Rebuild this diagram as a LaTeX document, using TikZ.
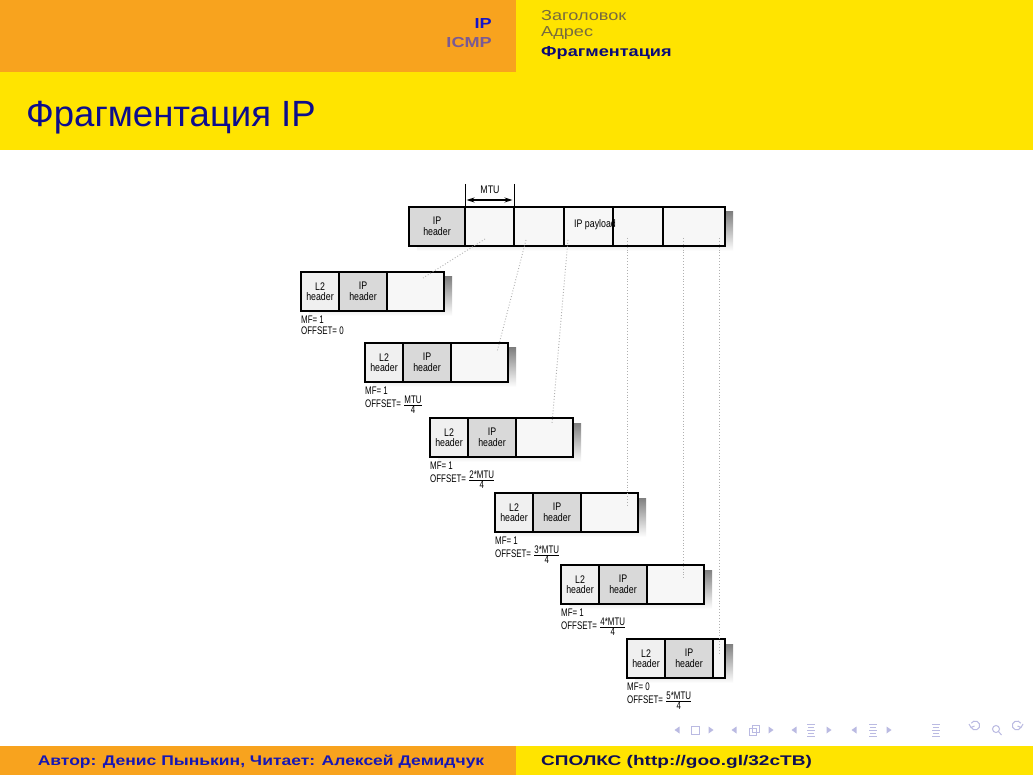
\documentclass[tikz,border=0pt]{standalone}
\usepackage{fontspec}
\setmainfont{Liberation Sans}
\newfontfamily\figfont[FakeStretch=0.8]{Liberation Sans}
\newfontfamily\flagfont[FakeStretch=0.72]{Liberation Sans}
\newfontfamily\slidefont[FakeStretch=1.25]{Liberation Sans}
\newfontfamily\slidewide[FakeStretch=1.36]{Liberation Sans}
\usetikzlibrary{arrows.meta,calc,backgrounds}

\definecolor{barorange}{HTML}{F8A31E}
\definecolor{baryellow}{HTML}{FFE400}
\definecolor{titleblue}{HTML}{0D0D8C}
\definecolor{navactive}{HTML}{1414C8}
\definecolor{navfaded}{HTML}{7A5A94}
\definecolor{secfaded}{HTML}{776B3E}
\definecolor{secactive}{HTML}{0A0A78}
\definecolor{footblue}{HTML}{1717B4}
\definecolor{footnavy}{HTML}{0E0E55}
\definecolor{navsym}{HTML}{BABAE2}
\definecolor{shade}{HTML}{9C9C9C}
\definecolor{cellL}{HTML}{F0F0F0}
\definecolor{cellIP}{HTML}{D9D9D9}
\definecolor{cellP}{HTML}{F7F7F7}
\definecolor{guide}{HTML}{B0B0B0}

\tikzset{
  cell/.style={draw=black, line width=1.1pt, minimum height=39pt, inner sep=0pt,
    outer sep=0pt, anchor=north west, align=center,
    font=\figfont\fontsize{11}{10.5}\selectfont},
  l2cell/.style={cell, fill=cellL, minimum width=38pt},
  ipcell/.style={cell, fill=cellIP, minimum width=48pt},
  paycell/.style={cell, fill=cellP, minimum width=57pt},
  flags/.style={anchor=north west, inner sep=0pt, align=left,
    font=\flagfont\fontsize{11}{11}\selectfont},
  guideline/.style={guide, line width=0.9pt, dotted},
  headtext/.style={inner sep=0pt, font=\slidefont\fontsize{14.5}{14.5}\selectfont},
  headbold/.style={inner sep=0pt, font=\slidefont\bfseries\fontsize{14.5}{14.5}\selectfont},
  navline/.style={navsym, line width=1pt},
}

\begin{document}
\begin{tikzpicture}[x=1pt, y=-1pt]
\useasboundingbox (0,0) rectangle (1033,775);

% slide background, head and foot bars
\begin{scope}[on background layer]
  \fill[white] (0,0) rectangle (1033,775);
  \fill[barorange] (0,0) rectangle (516,72);
  \fill[baryellow] (516,0) rectangle (1033,72);
  \fill[baryellow] (0,72) rectangle (1033,150);
  \fill[barorange] (0,746) rectangle (516,775);
  \fill[baryellow] (516,746) rectangle (1033,775);
\end{scope}

% head line: sections and subsections
\node[headbold, anchor=base east, text=navactive] (secip) at (492,29) {IP};
\node[headbold, anchor=base east, text=navfaded] (secicmp) at (492,48) {ICMP};
\node[headtext, anchor=base west, text=secfaded] (sub1) at (541,20.5) {Заголовок};
\node[headtext, anchor=base west, text=secfaded] (sub2) at (541,37) {Адрес};
\node[headbold, anchor=base west, text=secactive] (sub3) at (541,56.5) {Фрагментация};

% frame title
\node[anchor=base west, inner sep=0pt, text=titleblue, font=\fontsize{36.5}{37}\selectfont] (title) at (26,127) {Фрагментация IP};

% original datagram
\node[ipcell, minimum width=56pt] (tip) at (409,207) {IP\\header};
\node[cell, fill=cellP, minimum width=49pt] (t1) at (tip.north east) {};
\node[cell, fill=cellP, minimum width=50pt] (t2) at (t1.north east) {};
\node[cell, fill=cellP, minimum width=49pt] (t3) at (t2.north east) {};
\node[cell, fill=cellP, minimum width=50pt] (t4) at (t3.north east) {};
\node[cell, fill=cellP, minimum width=62pt] (t5) at (t4.north east) {};
\node[inner sep=0pt, font=\figfont\fontsize{11}{11}\selectfont] (tpay) at (595,225) {IP payload};

% MTU dimension
\coordinate (m1) at (465,184);
\coordinate (m2) at (514,184);
\draw[line width=0.9pt] (m1) -- (t1.north west);
\draw[line width=0.9pt] (m2) -- (t1.north east);
\draw[line width=1.2pt, {Stealth[length=8pt,width=5pt]}-{Stealth[length=8pt,width=5pt]}]
  ($(t1.north west)+(1.5,-7)$) -- ($(t1.north east)+(-1.5,-7)$);
\node[inner sep=0pt, font=\figfont\fontsize{11}{11}\selectfont] (mtu) at (490,190) {MTU};

% fragments
\node[l2cell] (f1l) at (301,272) {L2\\header};
\node[ipcell] (f1i) at (f1l.north east) {IP\\header};
\node[paycell] (f1p) at (f1i.north east) {};
\node[flags] (f1m) at ($(f1l.south west)+(0,5)$) {MF= 1\\OFFSET= 0};

\node[l2cell] (f2l) at (365,343) {L2\\header};
\node[ipcell] (f2i) at (f2l.north east) {IP\\header};
\node[paycell] (f2p) at (f2i.north east) {};
\node[flags] (f2m) at ($(f2l.south west)+(0,5)$) {MF= 1\\OFFSET= $\frac{\mbox{MTU}}{\mbox{4}}$};

\node[l2cell] (f3l) at (430,418) {L2\\header};
\node[ipcell] (f3i) at (f3l.north east) {IP\\header};
\node[paycell] (f3p) at (f3i.north east) {};
\node[flags] (f3m) at ($(f3l.south west)+(0,5)$) {MF= 1\\OFFSET= $\frac{\mbox{2*MTU}}{\mbox{4}}$};

\node[l2cell] (f4l) at (495,493) {L2\\header};
\node[ipcell] (f4i) at (f4l.north east) {IP\\header};
\node[paycell] (f4p) at (f4i.north east) {};
\node[flags] (f4m) at ($(f4l.south west)+(0,5)$) {MF= 1\\OFFSET= $\frac{\mbox{3*MTU}}{\mbox{4}}$};

\node[l2cell] (f5l) at (561,565) {L2\\header};
\node[ipcell] (f5i) at (f5l.north east) {IP\\header};
\node[paycell] (f5p) at (f5i.north east) {};
\node[flags] (f5m) at ($(f5l.south west)+(0,5)$) {MF= 1\\OFFSET= $\frac{\mbox{4*MTU}}{\mbox{4}}$};

\node[l2cell] (f6l) at (627,639) {L2\\header};
\node[ipcell] (f6i) at (f6l.north east) {IP\\header};
\node[paycell, minimum width=12pt] (f6p) at (f6i.north east) {};
\node[flags] (f6m) at ($(f6l.south west)+(0,5)$) {MF= 0\\OFFSET= $\frac{\mbox{5*MTU}}{\mbox{4}}$};

% drop shadows behind each datagram
\begin{scope}[on background layer]
  \foreach \a/\b in {tip/t5, f1l/f1p, f2l/f2p, f3l/f3p, f4l/f4p, f5l/f5p, f6l/f6p}
    \fill[shade] ($(\a.north west)+(8,5)$) rectangle ($(\b.south east)+(8,5)$);
\end{scope}

% where each piece of the payload goes
\coordinate (g1a) at (485,239); \coordinate (g1b) at (423,278);
\coordinate (g2a) at (526,240); \coordinate (g2b) at (497,352);
\coordinate (g3a) at (568,240); \coordinate (g3b) at (552,423);
\coordinate (g4a) at (627,238); \coordinate (g4b) at (627,505);
\coordinate (g5a) at (683,238); \coordinate (g5b) at (683,578);
\coordinate (g6a) at (719,238); \coordinate (g6b) at (719,655);
\foreach \i in {1,...,6}
  \draw[guideline] (g\i a) -- (g\i b);

% foot line
\node[anchor=base, inner sep=0pt, text=footblue, font=\slidefont\bfseries\fontsize{14}{14}\selectfont] (author) at (261,765) {Автор: Денис Пынькин, Читает: Алексей Демидчук};
\node[anchor=base west, inner sep=0pt, text=footnavy, font=\slidewide\bfseries\fontsize{14}{14}\selectfont] (course) at (541,765) {СПОЛКС (http://goo.gl/32cTB)};

% navigation symbols
\foreach \x in {677,734,794,854}
  \fill[navsym] (\x-2.5,730) -- (\x+2.5,726.5) -- (\x+2.5,733.5) -- cycle;
\foreach \x in {711,771,829,889}
  \fill[navsym] (\x+2.5,730) -- (\x-2.5,726.5) -- (\x-2.5,733.5) -- cycle;
\draw[navline] (691,726) rectangle (699,734);
\draw[navline] (749,728) rectangle (756,735);
\draw[navline] (752,725) rectangle (759,732);
\foreach \x in {811,873,936} {
  \draw[navline] (\x-4,724.5) -- (\x+4,724.5);
  \draw[navline] (\x-3,727.5) -- (\x+3,727.5);
  \draw[navline] (\x-4,730.5) -- (\x+4,730.5);
  \draw[navline] (\x-3,733.5) -- (\x+3,733.5);
  \draw[navline] (\x-4,736.5) -- (\x+4,736.5);
}
\draw[navline] (971,727) arc[start angle=160, end angle=-150, radius=4.5];
\draw[navline] (969,724) -- (971,727.5) -- (974.5,726);
\draw[navline] (996,729) circle[radius=3.5];
\draw[navline] (998.5,731.5) -- (1001.5,735);
\draw[navline] (1021,727) arc[start angle=20, end angle=330, radius=4.5];
\draw[navline] (1023,724) -- (1021,727.5) -- (1017.5,726);
\end{tikzpicture}
\end{document}
